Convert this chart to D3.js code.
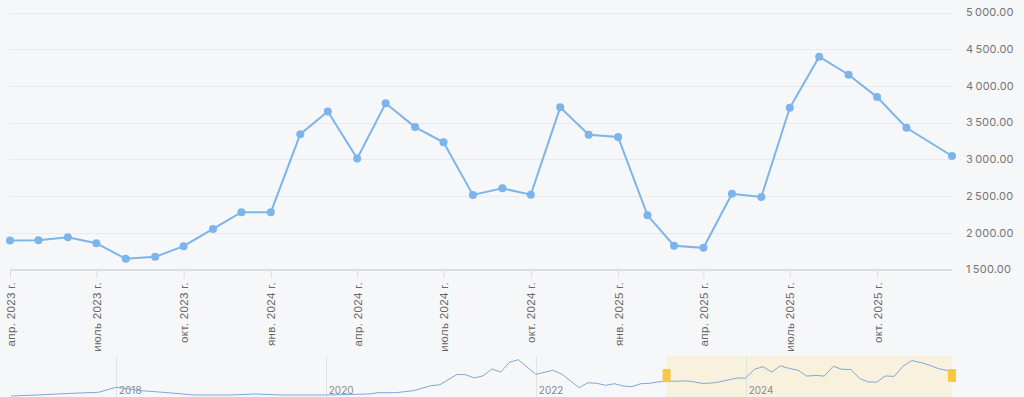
<!DOCTYPE html>
<html>
<head>
<meta charset="UTF-8">
<title>Chart</title>
<script src="https://cdn.jsdelivr.net/npm/d3@7"></script>
<style>
  html, body { margin: 0; padding: 0; background: #f6f7f8; }
  svg { display: block; font-family: Inter, "Open Sans", sans-serif; }
  .grid line { stroke: #e8eaed; stroke-width: 1; }
  .yaxis text { fill: #757575; font-size: 11px; letter-spacing: 0.2px; }
  .xaxis text { fill: #666; font-size: 11.5px; letter-spacing: 0.35px; }
  .xaxis line, .xaxis path { stroke: #d9dee6; }
  .nav text { fill: #8a8a8a; font-size: 10px; }
</style>
</head>
<body>
<svg id="chart"></svg>
<script>
var WIDTH = 1024, HEIGHT = 397;

// main series, monthly from apr 2023, last point in december 2025
var dates = ["2023-04-01","2023-05-01","2023-06-01","2023-07-01","2023-08-01","2023-09-01",
  "2023-10-01","2023-11-01","2023-12-01","2024-01-01","2024-02-01","2024-03-01",
  "2024-04-01","2024-05-01","2024-06-01","2024-07-01","2024-08-01","2024-09-01",
  "2024-10-01","2024-11-01","2024-12-01","2025-01-01","2025-02-01","2025-03-01",
  "2025-04-01","2025-05-01","2025-06-01","2025-07-01","2025-08-01","2025-09-01",
  "2025-10-01","2025-11-01","2025-12-19"];
var values = [1895, 1898, 1940, 1858, 1645, 1672, 1818, 2052, 2280, 2280, 3343, 3652,
  3012, 3765, 3440, 3232, 2515, 2605, 2519, 3708, 3336, 3305, 2238, 1824,
  1795, 2532, 2488, 3702, 4398, 4152, 3848, 3430, 3046];

// navigator history before the main window
var navDates = ["2017-01-01","2017-04-01","2017-08-01","2017-11-01","2018-01-01","2018-04-01",
  "2018-07-01","2018-10-01","2019-02-01","2019-05-01","2019-08-01","2020-01-01",
  "2020-06-01","2020-07-01","2020-09-01","2020-11-01","2021-01-01","2021-02-01",
  "2021-04-01","2021-05-01","2021-06-01","2021-07-01","2021-08-01","2021-09-01",
  "2021-10-01","2021-11-01","2022-01-01","2022-03-01","2022-04-01","2022-06-01",
  "2022-07-01","2022-08-01","2022-09-01","2022-10-01","2022-11-01","2022-12-01",
  "2023-01-01","2023-02-01","2023-03-01"];
var navValues = [120, 240, 445, 565, 1170, 760, 520, 240, 240, 360, 240, 240,
  360, 520, 520, 760, 1360, 1480, 2710, 2700, 2290, 2550, 3370, 3010,
  4180, 4495, 2735, 3215, 2770, 1120, 1720, 1650, 1410, 1600, 1325, 1240,
  1600, 1650, 1810];

var yTicks = [1500, 2000, 2500, 3000, 3500, 4000, 4500, 5000];
var navYears = [2018, 2020, 2022, 2024];
var monthNames = ["янв.","февр.","март","апр.","май","июнь","июль","авг.","сент.","окт.","нояб.","дек."];

var parse = d3.timeParse("%Y-%m-%d");
var data = dates.map(function(d, i){ return {date: parse(d), value: values[i]}; });
var navData = navDates.map(function(d, i){ return {date: parse(d), value: navValues[i]}; }).concat(data);

var svg = d3.select("#chart").attr("width", WIDTH).attr("height", HEIGHT);

var xScale = d3.scaleTime()
  .domain(d3.extent(data, function(d){ return d.date; }))
  .range([10, 952]);
var yScale = d3.scaleLinear()
  .domain([1500, 5000])
  .range([269.5, 12.5]);

var fmt = d3.formatLocale({decimal: ".", thousands: "\u2009", grouping: [3], currency: ["", ""]}).format(",.2f");

// horizontal grid
svg.append("g").attr("class", "grid")
  .selectAll("line")
  .data(yTicks.slice(1))
  .enter().append("line")
  .attr("x1", 10).attr("x2", 952)
  .attr("y1", function(d){ return Math.round(yScale(d)) + 0.5; })
  .attr("y2", function(d){ return Math.round(yScale(d)) + 0.5; });

// y labels on the right
svg.append("g").attr("class", "yaxis")
  .selectAll("text")
  .data(yTicks)
  .enter().append("text")
  .attr("x", 966)
  .attr("y", function(d){ return yScale(d); })
  .attr("dy", "0.35em")
  .text(function(d){ return fmt(d); });

// x axis
var xAxis = d3.axisBottom(xScale)
  .ticks(d3.timeMonth.every(3))
  .tickSize(8)
  .tickSizeOuter(0)
  .tickFormat(function(d){ return monthNames[d.getMonth()] + " " + d.getFullYear() + " г."; });

var gx = svg.append("g")
  .attr("class", "xaxis")
  .attr("transform", "translate(0,270)")
  .call(xAxis);
gx.select(".domain").attr("d", "M10,0H952").attr("stroke-width", 2);
gx.selectAll(".tick text")
  .attr("transform", "rotate(-90)")
  .attr("text-anchor", "end")
  .attr("x", -12)
  .attr("y", 0)
  .attr("dy", "0.35em");

// line + markers
var line = d3.line()
  .x(function(d){ return xScale(d.date); })
  .y(function(d){ return yScale(d.value); });

svg.append("path")
  .datum(data)
  .attr("fill", "none")
  .attr("stroke", "#7cb5ec")
  .attr("stroke-width", 2)
  .attr("d", line);

svg.selectAll("circle.pt")
  .data(data)
  .enter().append("circle")
  .attr("class", "pt")
  .attr("cx", function(d){ return xScale(d.date); })
  .attr("cy", function(d){ return yScale(d.value); })
  .attr("r", 4)
  .attr("fill", "#7cb5ec");

// navigator
var navX = d3.scaleTime()
  .domain([navData[0].date, navData[navData.length - 1].date])
  .range([11, 952]);
var navY = d3.scaleLinear().domain([0, 4700]).range([397, 358]);

var nav = svg.append("g").attr("class", "nav");

var x0 = navX(data[0].date), x1 = navX(data[data.length - 1].date);
nav.append("rect")
  .attr("x", x0).attr("y", 356)
  .attr("width", x1 - x0).attr("height", 41)
  .attr("fill", "#f8f1dd");

nav.selectAll("line.yr")
  .data(navYears)
  .enter().append("line")
  .attr("class", "yr")
  .attr("x1", function(d){ return Math.round(navX(new Date(d, 0, 1))) + 0.5; })
  .attr("x2", function(d){ return Math.round(navX(new Date(d, 0, 1))) + 0.5; })
  .attr("y1", 356).attr("y2", 397)
  .attr("stroke", "#e3e3e3");

nav.selectAll("text.yr")
  .data(navYears)
  .enter().append("text")
  .attr("class", "yr")
  .attr("x", function(d){ return navX(new Date(d, 0, 1)) + 3; })
  .attr("y", 394)
  .text(function(d){ return d; });

var navLine = d3.line()
  .x(function(d){ return navX(d.date); })
  .y(function(d){ return navY(d.value); });

nav.append("path")
  .datum(navData)
  .attr("fill", "none")
  .attr("stroke", "#7fa9d6")
  .attr("stroke-width", 1)
  .attr("d", navLine);

nav.selectAll("rect.handle")
  .data([x0, x1])
  .enter().append("rect")
  .attr("class", "handle")
  .attr("x", function(d){ return d - 4; })
  .attr("y", 369)
  .attr("width", 8)
  .attr("height", 13)
  .attr("rx", 1)
  .attr("fill", "#f6c844");
</script>
</body>
</html>
